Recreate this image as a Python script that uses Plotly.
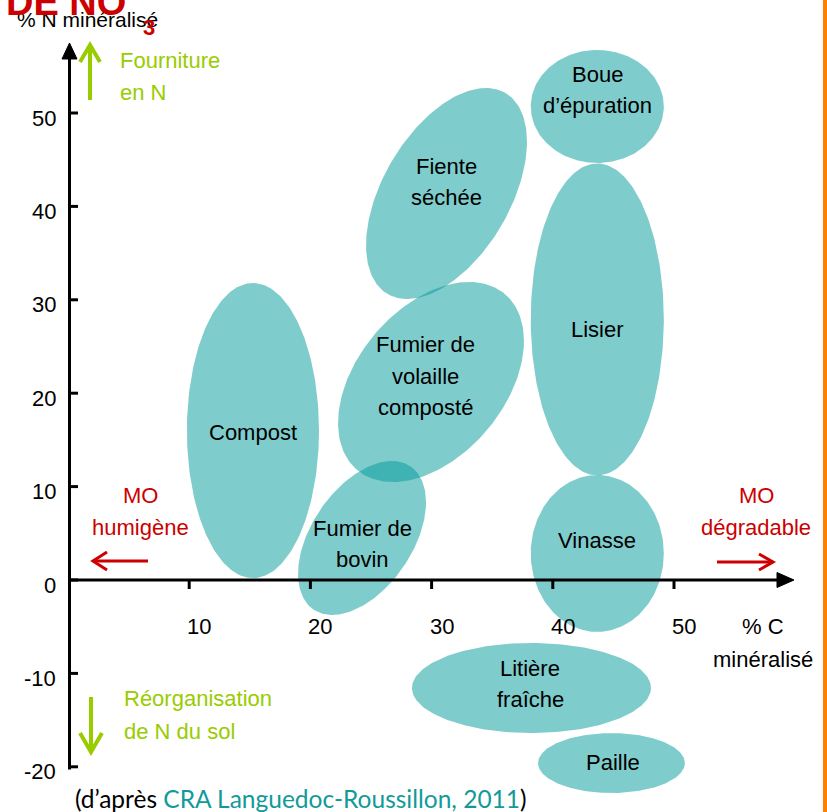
import numpy as np
import plotly.graph_objects as go

W, H = 827, 812

# ---------------- data ----------------
names = ["Compost", "Boue\nd’épuration", "Fiente\nséchée", "Lisier",
         "Fumier de\nvolaille\ncomposté", "Fumier de\nbovin", "Vinasse",
         "Litière\nfraîche", "Paille"]
# ellipse centres (% C minéralisé, % N minéralisé)
cx = [15.26, 43.67, 31.23, 43.67, 29.95, 24.26, 43.67, 38.24, 44.84]
cy = [16.0, 50.7, 41.38, 27.9, 21.2, 4.5, 2.84, -11.56, -19.6]
# half extents (x units, y units) and tilt correlation
hw = [5.45, 5.49, 6.64, 5.49, 7.67, 5.28, 5.49, 9.86, 6.06]
hh = [15.8, 6.05, 11.3, 16.7, 10.71, 8.24, 8.4, 4.82, 3.21]
rho = [0.0, 0.0, 0.49, 0.0, 0.41, 0.465, 0.0, 0.0, 0.0]
# label positions
lx = [15.26, 43.67, 31.27, 43.67, 29.46, 24.26, 43.67, 38.12, 44.97]
ly = [15.74, 52.46, 42.6, 26.77, 21.84, 3.85, 4.18, -11.13, -19.49]

x_ticks = [10, 20, 30, 40, 50]
y_ticks = [-20, -10, 0, 10, 20, 30, 40, 50]

# ---------------- layout geometry ----------------
X0PX, KX = 68.0, 12.12
Y0PX, KY = 580.0, 9.34
x_range = [-X0PX / KX, (W - X0PX) / KX]
y_range = [-(H - Y0PX) / KY, Y0PX / KY]

FILL = "rgba(0,153,153,0.5)"
RED = "#CC0000"
GREEN = "#99CC00"
TEAL = "#129A9A"
FONT = "Liberation Sans, Arial, sans-serif"
FS = 22


def px(x):
    return x / W


def py(y):
    return 1 - y / H


def ppath(points, close=False):
    s = "M " + " L ".join(f"{px(a):.5f},{py(b):.5f}" for a, b in points)
    return s + (" Z" if close else "")


fig = go.Figure()

t = np.linspace(0, 2 * np.pi, 240)
for i in range(len(names)):
    r = rho[i]
    xs = cx[i] + hw[i] * np.cos(t)
    ys = cy[i] + hh[i] * (r * np.cos(t) + np.sqrt(1 - r * r) * np.sin(t))
    fig.add_trace(go.Scatter(x=xs, y=ys, mode="lines", fill="toself",
                             fillcolor=FILL, line=dict(width=0),
                             hoverinfo="skip", showlegend=False))

shapes = []
# axes
shapes.append(dict(type="path", xref="paper", yref="paper",
                   path=ppath([(69.5, 769.5), (69.5, 56)]),
                   line=dict(color="black", width=3), layer="above"))
shapes.append(dict(type="path", xref="paper", yref="paper",
                   path=ppath([(69.5, 43), (62, 59), (77, 59)], close=True),
                   fillcolor="black", line=dict(color="black", width=1), layer="above"))
shapes.append(dict(type="path", xref="paper", yref="paper",
                   path=ppath([(68, 580), (780, 580)]),
                   line=dict(color="black", width=3), layer="above"))
shapes.append(dict(type="path", xref="paper", yref="paper",
                   path=ppath([(794, 580), (777, 572.5), (777, 587.5)], close=True),
                   fillcolor="black", line=dict(color="black", width=1), layer="above"))
for v in y_ticks:
    shapes.append(dict(type="line", xref="paper", yref="y",
                       x0=px(69.5), x1=px(78), y0=v, y1=v,
                       line=dict(color="black", width=3), layer="above"))
for v in x_ticks:
    shapes.append(dict(type="line", xref="x", yref="paper",
                       x0=v, x1=v, y0=py(580), y1=py(589),
                       line=dict(color="black", width=3), layer="above"))

# red arrows
shapes.append(dict(type="path", xref="paper", yref="paper",
                   path=ppath([(148, 561), (93, 561)]), line=dict(color=RED, width=3)))
shapes.append(dict(type="path", xref="paper", yref="paper",
                   path=ppath([(107, 552), (93, 561), (107, 570)]), line=dict(color=RED, width=3)))
shapes.append(dict(type="path", xref="paper", yref="paper",
                   path=ppath([(717, 562), (773, 562)]), line=dict(color=RED, width=3)))
shapes.append(dict(type="path", xref="paper", yref="paper",
                   path=ppath([(759, 554), (773, 562), (759, 570)]), line=dict(color=RED, width=3)))
# green arrows
shapes.append(dict(type="path", xref="paper", yref="paper",
                   path=ppath([(90, 100), (90, 46)]), line=dict(color=GREEN, width=4)))
shapes.append(dict(type="path", xref="paper", yref="paper",
                   path=ppath([(80, 62), (90, 45), (100, 62)]), line=dict(color=GREEN, width=4)))
shapes.append(dict(type="path", xref="paper", yref="paper",
                   path=ppath([(91, 697), (91, 751)]), line=dict(color=GREEN, width=4)))
shapes.append(dict(type="path", xref="paper", yref="paper",
                   path=ppath([(80, 733), (91, 752), (102, 733)]), line=dict(color=GREEN, width=4)))
# orange border
shapes.append(dict(type="rect", xref="paper", yref="paper",
                   x0=px(823), x1=1.01, y0=-0.01, y1=1.01,
                   fillcolor="#FF7F00", line=dict(width=0)))

annotations = []


def add_lines(x, y, text, xref, yref, size=FS, color="black", spacing=31.5,
              xanchor="center", font=FONT, bold=False):
    lines = text.split("\n")
    n = len(lines)
    for i, s in enumerate(lines):
        annotations.append(dict(
            x=x, y=y, xref=xref, yref=yref, text=(f"<b>{s}</b>" if bold else s),
            showarrow=False, xanchor=xanchor, yanchor="middle",
            yshift=((n - 1) / 2 - i) * spacing,
            font=dict(family=font, size=size, color=color)))


# ellipse labels
for i, nm in enumerate(names):
    add_lines(lx[i], ly[i], nm, "x", "y")

# tick labels
for v in x_ticks:
    annotations.append(dict(x=v, y=0, xref="x", yref="y", text=str(v), showarrow=False,
                            xanchor="center", yanchor="middle", xshift=10, yshift=-46,
                            font=dict(family=FONT, size=FS, color="black")))
for v in y_ticks:
    annotations.append(dict(x=px(58), y=v, xref="paper", yref="y", text=str(v), showarrow=False,
                            xanchor="right", yanchor="middle", yshift=-5,
                            font=dict(family=FONT, size=FS, color="black")))

# axis titles
add_lines(px(15), py(20), "% N minéralisé", "paper", "paper", size=21, xanchor="left")
add_lines(px(763), py(643), "% C\nminéralisé", "paper", "paper", spacing=33)

# side notes
add_lines(px(140), py(511), "MO\nhumigène", "paper", "paper", color=RED, spacing=32)
add_lines(px(756), py(511), "MO\ndégradable", "paper", "paper", color=RED, spacing=32)
add_lines(px(118), py(76), "Fourniture\nen N", "paper", "paper", color=GREEN,
          spacing=32, xanchor="left")
add_lines(px(122), py(715), "Réorganisation\nde N du sol", "paper", "paper", color=GREEN,
          spacing=33, xanchor="left")

# cut-off title fragment
annotations.append(dict(x=px(4), y=py(2), xref="paper", yref="paper", text="<b>DE NO</b>",
                        showarrow=False, xanchor="left", yanchor="middle",
                        font=dict(family=FONT, size=38, color=RED)))
annotations.append(dict(x=px(149), y=py(28), xref="paper", yref="paper", text="<b>3</b>",
                        showarrow=False, xanchor="center", yanchor="middle",
                        font=dict(family=FONT, size=22, color=RED)))
annotations.append(dict(x=px(160), y=py(-5), xref="paper", yref="paper", text="<b>-</b>",
                        showarrow=False, xanchor="center", yanchor="middle",
                        font=dict(family=FONT, size=30, color=RED)))

# caption
annotations.append(dict(x=px(73), y=py(798), xref="paper", yref="paper",
                        text=f"(d’après <span style='color:{TEAL}'>CRA Languedoc-Roussillon, 2011</span>)",
                        showarrow=False, xanchor="left", yanchor="middle",
                        font=dict(family="Lato, Carlito, sans-serif", size=24.5, color="black")))

fig.update_layout(
    width=W, height=H,
    margin=dict(l=0, r=0, t=0, b=0),
    paper_bgcolor="white", plot_bgcolor="white",
    xaxis=dict(range=x_range, visible=False, fixedrange=True),
    yaxis=dict(range=y_range, visible=False, fixedrange=True),
    shapes=shapes, annotations=annotations,
    showlegend=False,
)

fig.write_html("out.html", config={"displayModeBar": False},
               post_script="document.body.style.margin='0';document.body.style.overflow='hidden';")
